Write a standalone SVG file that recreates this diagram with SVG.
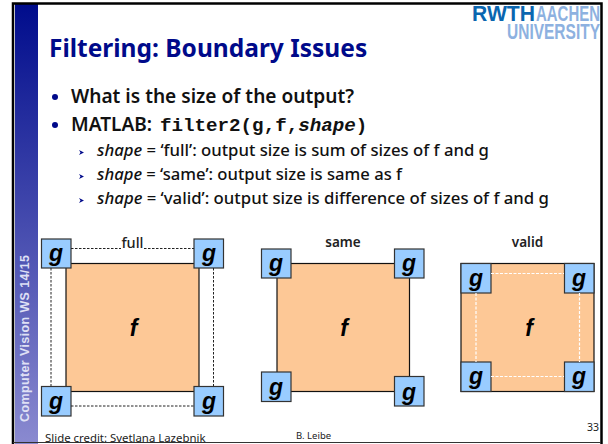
<svg xmlns="http://www.w3.org/2000/svg" width="608" height="444" viewBox="0 0 608 444">
<defs>
<linearGradient id="side" x1="0" y1="0" x2="0" y2="1"><stop offset="0" stop-color="#000c8c"/><stop offset="1" stop-color="#8a8ad0"/></linearGradient>
</defs>
<style>
.t{font-family:"Noto Sans","Open Sans",sans-serif;fill:#111;font-weight:600}
.h{font-size:19px}.s{font-size:16px;font-weight:500}
.m{font-family:"Liberation Mono",monospace;font-weight:700;font-size:19.200px;fill:#111}
.f{fill:#fdc896;stroke:#111;stroke-width:1.2}
.g{fill:#99ccff;stroke:#333;stroke-width:1.2}
.l{font-family:"Liberation Sans",Arial,sans-serif;font-weight:700;font-style:italic;font-size:23px;fill:#000;text-anchor:middle}
.c{font-family:"Noto Sans",sans-serif;font-size:13.500px;font-weight:600;fill:#222;text-anchor:middle}
.d{fill:none;stroke:#222;stroke-width:1;stroke-dasharray:2.5 1.5}
.w{fill:none;stroke:#fff;stroke-width:1.200;stroke-dasharray:3 1.5}
.b{fill:#000a8a}
</style>
<rect width="608" height="444" fill="#fff"/>
<rect x="15" y="4" width="23" height="440" fill="url(#side)"/>
<g id="logo" font-family="Liberation Sans,sans-serif" font-weight="700">
<text x="472" y="21" font-size="22" fill="#0a66b0" textLength="63" lengthAdjust="spacingAndGlyphs">RWTH</text>
<text x="536" y="21" font-size="22" fill="#8db1e0" textLength="64" lengthAdjust="spacingAndGlyphs">AACHEN</text>
<text x="507" y="38.500" font-size="22" fill="#8db1e0" textLength="93" lengthAdjust="spacingAndGlyphs">UNIVERSITY</text>
</g>
<path d="M13 444V3.500H601.500V444" fill="none" stroke="#000" stroke-width="2.500"/>
<path d="M13 442.500H601" fill="none" stroke="#333" stroke-width="1.200"/>
<text x="49" y="57" font-family="Noto Sans,sans-serif" font-weight="700" font-size="24.500" fill="#000a8a">Filtering: Boundary Issues</text>
<circle class="b" cx="55" cy="97" r="3"/><circle class="b" cx="55" cy="125" r="3"/>
<text class="t h" x="71" y="103" textLength="283" lengthAdjust="spacingAndGlyphs">What is the size of the output?</text>
<text class="t h" x="71" y="131" textLength="81" lengthAdjust="spacingAndGlyphs">MATLAB:</text>
<text class="m" x="160" y="131">filter2(g,f,<tspan font-style="italic">shape</tspan>)</text>
<path class="b" d="M79 150l5 2.500-5 2.500 1.500-2.500z"/><path class="b" d="M79 174l5 2.500-5 2.500 1.500-2.500z"/><path class="b" d="M79 198l5 2.500-5 2.500 1.500-2.500z"/>
<text class="t s" x="97" y="156" textLength="392" lengthAdjust="spacingAndGlyphs"><tspan font-style="italic">shape</tspan> = ‘full’: output size is sum of sizes of f and g</text>
<text class="t s" x="97" y="180" textLength="305" lengthAdjust="spacingAndGlyphs"><tspan font-style="italic">shape</tspan> = ‘same’: output size is same as f</text>
<text class="t s" x="97" y="204" textLength="452" lengthAdjust="spacingAndGlyphs"><tspan font-style="italic">shape</tspan> = ‘valid’: output size is difference of sizes of f and g</text>
<text transform="translate(29,422) rotate(-90)" font-family="Liberation Sans,sans-serif" font-weight="700" font-size="12.500" fill="#dfe0f5" textLength="167" lengthAdjust="spacing">Computer Vision WS 14/15</text>
<text class="c" x="132.500" y="248" style="font-size:14.500px;font-weight:500">full</text>
<text class="c" x="343" y="247">same</text>
<text class="c" x="527.500" y="247">valid</text>
<g id="full">
<rect class="f" x="66" y="263.500" width="133" height="128"/><text class="l" x="133.500" y="336">f</text>
<rect class="g" x="41.500" y="239" width="29.500" height="29"/><text class="l" x="56" y="261">g</text>
<rect class="g" x="194" y="239" width="29.500" height="29"/><text class="l" x="209" y="261">g</text>
<rect class="g" x="41.500" y="386.500" width="29.500" height="29.500"/><text class="l" x="56" y="409">g</text>
<rect class="g" x="194" y="386.500" width="29.500" height="29.500"/><text class="l" x="209" y="409">g</text>
</g>
<g id="same">
<rect class="f" x="277" y="263.500" width="132.500" height="128"/><text class="l" x="344" y="336">f</text>
<rect class="g" x="261.500" y="249" width="29.500" height="29"/><text class="l" x="276" y="271">g</text>
<rect class="g" x="394.500" y="249" width="29.500" height="29"/><text class="l" x="409" y="271">g</text>
<rect class="g" x="261.500" y="372" width="29.500" height="29.500"/><text class="l" x="276" y="395">g</text>
<rect class="g" x="394.500" y="376.500" width="29.500" height="29.500"/><text class="l" x="409" y="400">g</text>
</g>
<g id="valid">
<rect class="f" x="461" y="263.500" width="133" height="128"/>
<text class="l" x="529" y="336">f</text>
<rect class="g" x="461" y="263.500" width="30" height="29.500"/><text class="l" x="476" y="286">g</text>
<rect class="g" x="564.500" y="263.500" width="29.500" height="29.500"/><text class="l" x="579" y="286">g</text>
<rect class="g" x="461" y="362" width="30" height="29.500"/><text class="l" x="476" y="384">g</text>
<rect class="g" x="564.500" y="362" width="29.500" height="29.500"/><text class="l" x="579" y="384">g</text>
</g>
<g id="connectors">
<path class="d" d="M71 248.500H121M144 248.500H194M71 406H194M51 268V386M213.500 268V386"/>
<path class="w" d="M491 273.500H564M491 376.500H564M476 293V362M579.500 293V362"/>
</g>
<text x="45" y="442" font-family="Noto Sans,sans-serif" font-size="11.400" fill="#222">Slide credit: Svetlana Lazebnik</text>
<text x="296" y="439" font-family="Noto Sans,sans-serif" font-size="9.500" fill="#222">B. Leibe</text>
<text x="587" y="431" font-family="Noto Sans,sans-serif" font-size="10.500" fill="#222">33</text>
</svg>
